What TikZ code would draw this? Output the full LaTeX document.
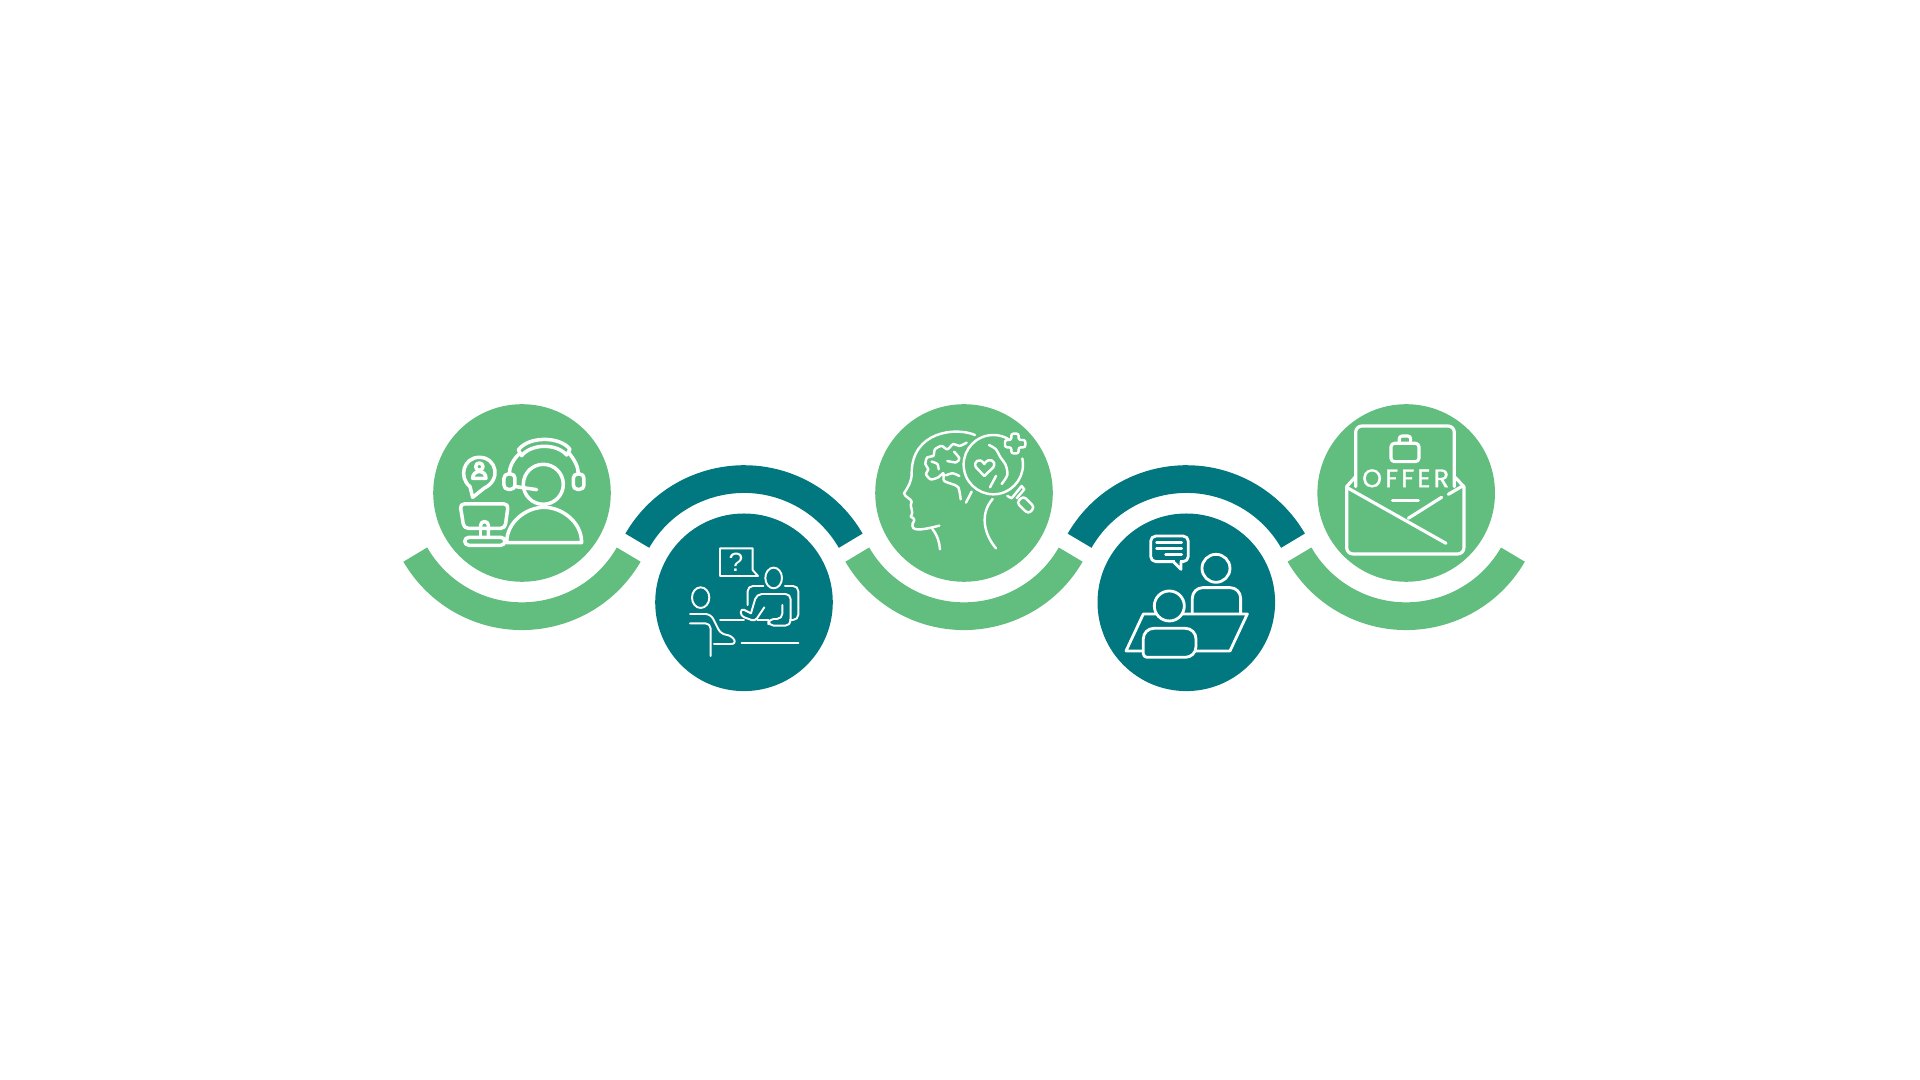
\documentclass[tikz,border=0pt]{standalone}
\usepackage{fontspec}
\usetikzlibrary{positioning}
\newfontfamily\offerfont[LetterSpace=13, FakeBold=1.2]{Poppins}
\newfontfamily\askfont{Liberation Sans}
\definecolor{leaf}{RGB}{97,190,127}
\definecolor{lagoon}{RGB}{1,120,128}
\tikzset{
  band/.style={line width=0.277cm},
  glyph/.style={draw=white, line cap=round, line join=round, line width=#1},
}

\begin{document}
\begin{tikzpicture}[x=0.01cm, y=-0.01cm]
    \useasboundingbox (0,0) rectangle (1920,1080);

    \fill[leaf] (522,493) circle[radius=88.8];
    \fill[lagoon] (744,602.3) circle[radius=88.8];
    \fill[leaf] (964,493) circle[radius=88.8];
    \fill[lagoon] (1186.3,602.3) circle[radius=88.8];
    \fill[leaf] (1406.2,493) circle[radius=88.8];

    \draw[band, leaf] (522,493) ++(30:123.2) arc[start angle=30, end angle=150, radius=123.2];
    \draw[band, lagoon] (744,602.3) ++(210:123.2) arc[start angle=210, end angle=330, radius=123.2];
    \draw[band, leaf] (964,493) ++(30:123.2) arc[start angle=30, end angle=150, radius=123.2];
    \draw[band, lagoon] (1186.3,602.3) ++(210:123.2) arc[start angle=210, end angle=330, radius=123.2];
    \draw[band, leaf] (1406.2,493) ++(30:123.2) arc[start angle=30, end angle=150, radius=123.2];

    % agent with headset
    \begin{scope}[shift={(390,390)}, scale=0.3333, glyph=1pt]
        \draw (385,180) .. controls (415,138) and (510,138) .. (540,178) -- (530,195) .. controls (500,160) and (425,160) .. (395,197) -- cycle;
        \draw (389,190) .. controls (368,210) and (358,232) .. (358,252);
        \draw (535,187) .. controls (555,210) and (565,232) .. (565,252);
        \draw[rounded corners=1.2pt] (342,252) rectangle (375,298);
        \draw[rounded corners=1.2pt] (550,252) rectangle (582,298);
        \draw (460,283) circle[radius=60];
        \draw (378,290) -- (440,299);
        \draw (350,458) .. controls (350,395) and (410,352) .. (462,352) .. controls (515,352) and (575,395) .. (575,458) -- cycle;
        \draw (248,322) -- (240,290) .. controls (205,262) and (220,202) .. (268,202) .. controls (320,202) and (335,270) .. (282,295) -- cycle;
        \draw (268,230) circle[radius=11];
        \draw (248,265) .. controls (248,238) and (288,238) .. (288,265) -- cycle;
        \draw[rounded corners=1.2pt] (210,342) -- (355,342) -- (345,415) -- (222,415) -- cycle;
        \draw[rounded corners=1pt] (272,415) -- (272,395) -- (295,395) -- (295,440);
        \draw (272,415) -- (272,440);
        \draw[rounded corners=1.2pt] (224,442) rectangle (345,466);
    \end{scope}

    % two people at a desk
    \begin{scope}[shift={(620,450)}, scale=0.3333, glyph=0.55pt]
        \draw (300,295) -- (398,295) -- (398,360) -- (414,378) -- (300,378) -- cycle;
        \node[text=white, inner sep=0pt, font=\askfont\fontsize{7.5}{8}\selectfont] (ask) at (348,338) {?};
        \draw (461,384) ellipse[x radius=25, y radius=31];
        \draw (242,443) ellipse[x radius=26, y radius=31];
        \draw[rounded corners=1.5pt] (383,465) -- (383,408) -- (430,408);
        \draw[rounded corners=1.5pt] (495,408) -- (535,408) -- (535,510) -- (510,510);
        \draw (300,510) -- (372,510);
        \draw (412,510) -- (445,510);
        \draw[rounded corners=1.5pt] (393,490) -- (410,432) -- (512,432) -- (512,527) -- (445,527) -- (445,507) -- (487,507) -- (487,465);
        \draw[rounded corners=1pt] (393,490) -- (363,475) -- (362,498) -- (405,514) -- (433,472);
        \draw[rounded corners=1.5pt] (210,492) -- (272,492) -- (303,553) -- (335,556) -- (350,582) -- (282,582);
        \draw[rounded corners=1.5pt] (210,520) -- (272,520) -- (272,618);
        \draw (365,580) -- (535,580);
    \end{scope}

    % head with magnifier
    \begin{scope}[shift={(840,390)}, scale=0.3333, glyph=0.7pt]
        \draw (405,135) .. controls (345,110) and (215,125) .. (215,250) .. controls (215,275) and (205,290) .. (192,310) .. controls (195,322) and (212,325) .. (215,335) .. controls (205,350) and (225,362) .. (212,380) .. controls (225,385) and (225,392) .. (218,400) .. controls (212,425) and (240,422) .. (298,407);
        \draw (277,417) .. controls (292,435) and (298,455) .. (300,478);
        \draw (458,327) .. controls (420,370) and (430,430) .. (468,475);
        \draw plot[smooth] coordinates {(380,158) (358,168) (340,162) (322,178) (305,168) (285,178) (280,198) (262,202) (256,222) (265,238) (258,252) (272,268) (295,262) (310,250) (312,272) (335,282) (355,292) (362,328)};
        \draw plot[smooth] coordinates {(342,185) (358,205) (348,217) (322,213)};
        \draw plot[smooth] coordinates {(358,258) (338,250) (318,256)};
        \draw plot[smooth] coordinates {(275,215) (292,222) (296,238)};
        \draw (395,305) -- (378,338);
        \draw (460,224) ++(-12:89) arc[start angle=-12, end angle=304, radius=89];
        \draw plot[smooth] coordinates {(447,165) (468,178) (480,200) (497,225) (502,255) (485,282)};
        \draw (468,258) -- (450,292);
        \draw (433,258) -- (408,232) .. controls (398,215) and (420,200) .. (433,222) .. controls (445,200) and (472,212) .. (460,232) -- cycle;
        \draw[rounded corners=0.6pt] (514,131) -- (536,131) -- (536,150) -- (556,150) -- (556,172) -- (536,172) -- (536,190) -- (514,190) -- (514,172) -- (495,172) -- (495,150) -- (514,150) -- cycle;
        \draw (502,318) -- (515,325) -- (545,288) -- (553,298) -- (530,325);
        \draw[rounded corners=1pt] (550,318) -- (584,352) -- (565,372) -- (530,338) -- cycle;
    \end{scope}

    % two people with laptop
    \begin{scope}[shift={(1060,450)}, scale=0.3333, glyph=0.8pt]
        \draw[rounded corners=1.5pt] (272,258) rectangle (385,335);
        \fill[lagoon] (345,330) rectangle (360,340);
        \draw (340,335) -- (363,358) -- (363,335);
        \draw (290,278) -- (365,278);
        \draw (290,295) -- (365,295);
        \draw (317,313) -- (365,313);
        \draw (468,355) circle[radius=42];
        \draw[rounded corners=3pt] (397,490) -- (397,413) -- (542,413) -- (542,490);
        \draw (250,492) -- (562,492) -- (510,603) -- (198,603) -- cycle;
        \draw[fill=lagoon] (328,468) circle[radius=45];
        \draw[fill=lagoon, rounded corners=3pt] (250,600) -- (250,535) -- (408,535) -- (408,622) [rounded corners=1pt] -- (250,622) -- cycle;
    \end{scope}

    % offer letter
    \begin{scope}[shift={(1280,390)}, scale=0.3333, glyph=0.9pt]
        \draw[rounded corners=1.8pt] (227,290) -- (227,108) -- (523,108) -- (523,290);
        \draw[rounded corners=1.8pt] (200,290) -- (200,492) -- (552,492) -- (552,290);
        \draw (200,290) -- (225,262);
        \draw (552,290) -- (525,262);
        \draw (205,295) -- (498,460);
        \draw (385,385) -- (485,322);
        \draw (505,313) -- (548,288);
        \draw (337,331) -- (415,331);
        \draw[rounded corners=1pt] (333,160) rectangle (417,215);
        \draw[rounded corners=0.8pt] (358,160) -- (358,138) -- (392,138) -- (392,160);
        \node[text=white, inner sep=0pt, font=\offerfont\fontsize{7.2}{8}\selectfont] (offer) at (377,265) {OFFER};
    \end{scope}
\end{tikzpicture}
\end{document}
